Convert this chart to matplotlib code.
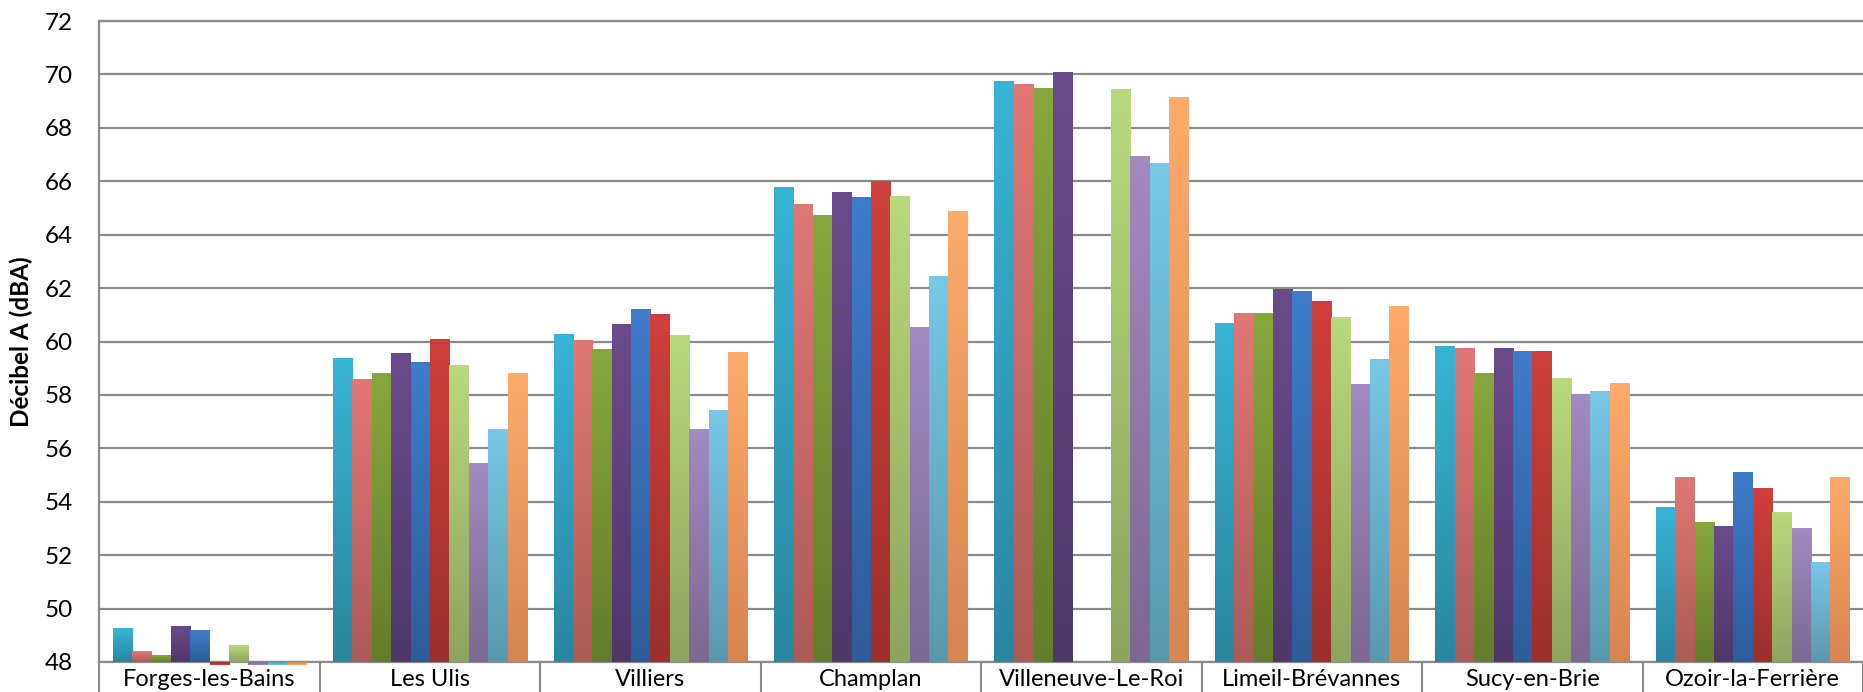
import numpy as np
import matplotlib.pyplot as plt
from matplotlib.colors import LinearSegmentedColormap

plt.rcParams['font.family'] = ['Lato', 'DejaVu Sans']

communes = ['Forges-les-Bains', 'Les Ulis', 'Villiers', 'Champlan',
            'Villeneuve-Le-Roi', 'Limeil-Brévannes', 'Sucy-en-Brie',
            'Ozoir-la-Ferrière']
yticks = list(range(48, 73, 2))

# one list per series (10 measurements per commune), dB(A)
mesure_01 = [49.26, 59.35, 60.27, 65.77, 69.74, 60.69, 59.83, 53.80]
mesure_02 = [48.40, 58.57, 60.02, 65.14, 69.61, 61.03, 59.73, 54.90]
mesure_03 = [48.23, 58.79, 59.69, 64.73, 69.48, 61.03, 58.82, 53.24]
mesure_04 = [49.32, 59.55, 60.62, 65.59, 70.09, 61.93, 59.74, 53.09]
mesure_05 = [49.19, 59.20, 61.18, 65.41, np.nan, 61.89, 59.61, 55.09]
mesure_06 = [47.90, 60.09, 61.00, 66.00, np.nan, 61.48, 59.61, 54.49]
mesure_07 = [48.61, 59.10, 60.21, 65.42, 69.42, 60.90, 58.60, 53.60]
mesure_08 = [47.90, 55.43, 56.70, 60.52, 66.91, 58.40, 58.01, 53.00]
mesure_09 = [47.90, 56.70, 57.41, 62.44, 66.68, 59.31, 58.13, 51.72]
mesure_10 = [47.90, 58.80, 59.60, 64.88, 69.13, 61.31, 58.42, 54.90]

series = [mesure_01, mesure_02, mesure_03, mesure_04, mesure_05,
          mesure_06, mesure_07, mesure_08, mesure_09, mesure_10]

# (top colour, bottom colour) of each gradient bar
colors = [('#37b4d5', '#2a869f'), ('#e07874', '#ad5a57'),
          ('#86a83c', '#637d2c'), ('#6a4b8b', '#4f376a'),
          ('#3d7dcb', '#2d5c98'), ('#cf403c', '#9b2f2c'),
          ('#b8d97c', '#8da45f'), ('#a28ac2', '#7b6893'),
          ('#76c8e6', '#5999ae'), ('#feaa6a', '#d78551')]

fig = plt.figure(figsize=(18.63, 6.92), dpi=100)
ax = fig.add_axes([99.3 / 1863, 30 / 692, (1863 - 99.3) / 1863, 641 / 692])

base = 48
width = 0.0879
grad = np.linspace(0, 1, 128).reshape(-1, 1)
for i, vals in enumerate(series):
    cmap = LinearSegmentedColormap.from_list('c%d' % i, [colors[i][1], colors[i][0]])
    for j, v in enumerate(vals):
        if np.isnan(v):
            continue
        x0 = j + (i - 5) * width
        im = ax.imshow(grad, extent=(x0, x0 + width, base, v), origin='lower',
                       cmap=cmap, aspect='auto', zorder=3, interpolation='bilinear')
        if v < base:
            im.set_clip_on(False)

ax.set_xlim(-0.5, -0.5 + (1863 - 99.3) / 222.3)
ax.set_ylim(48, 72)

grid_col = '#8a8a8a'
ax.set_yticks(yticks)
ax.yaxis.grid(True, color=grid_col, lw=1.6, zorder=1)
ax.set_axisbelow(True)
ax.tick_params(axis='y', length=0, pad=19, labelsize=17.5)

ax.set_xticks(range(len(communes)))
ax.set_xticklabels(communes)
ax.set_xticks(np.arange(-0.5, len(communes), 1), minor=True)
ax.tick_params(axis='x', which='major', length=0, pad=5, labelsize=17)
ax.tick_params(axis='x', which='minor', length=40, width=1.5, color=grid_col)

for side in ['left', 'bottom', 'top']:
    ax.spines[side].set_color(grid_col)
    ax.spines[side].set_linewidth(1.6)
ax.spines['right'].set_visible(False)

ax.set_ylabel('Décibel A (dBA)', fontsize=17.5, fontweight='bold')
ax.yaxis.set_label_coords(-66 / 1763.7, 0.5)

fig.savefig('out.png', dpi=100)
